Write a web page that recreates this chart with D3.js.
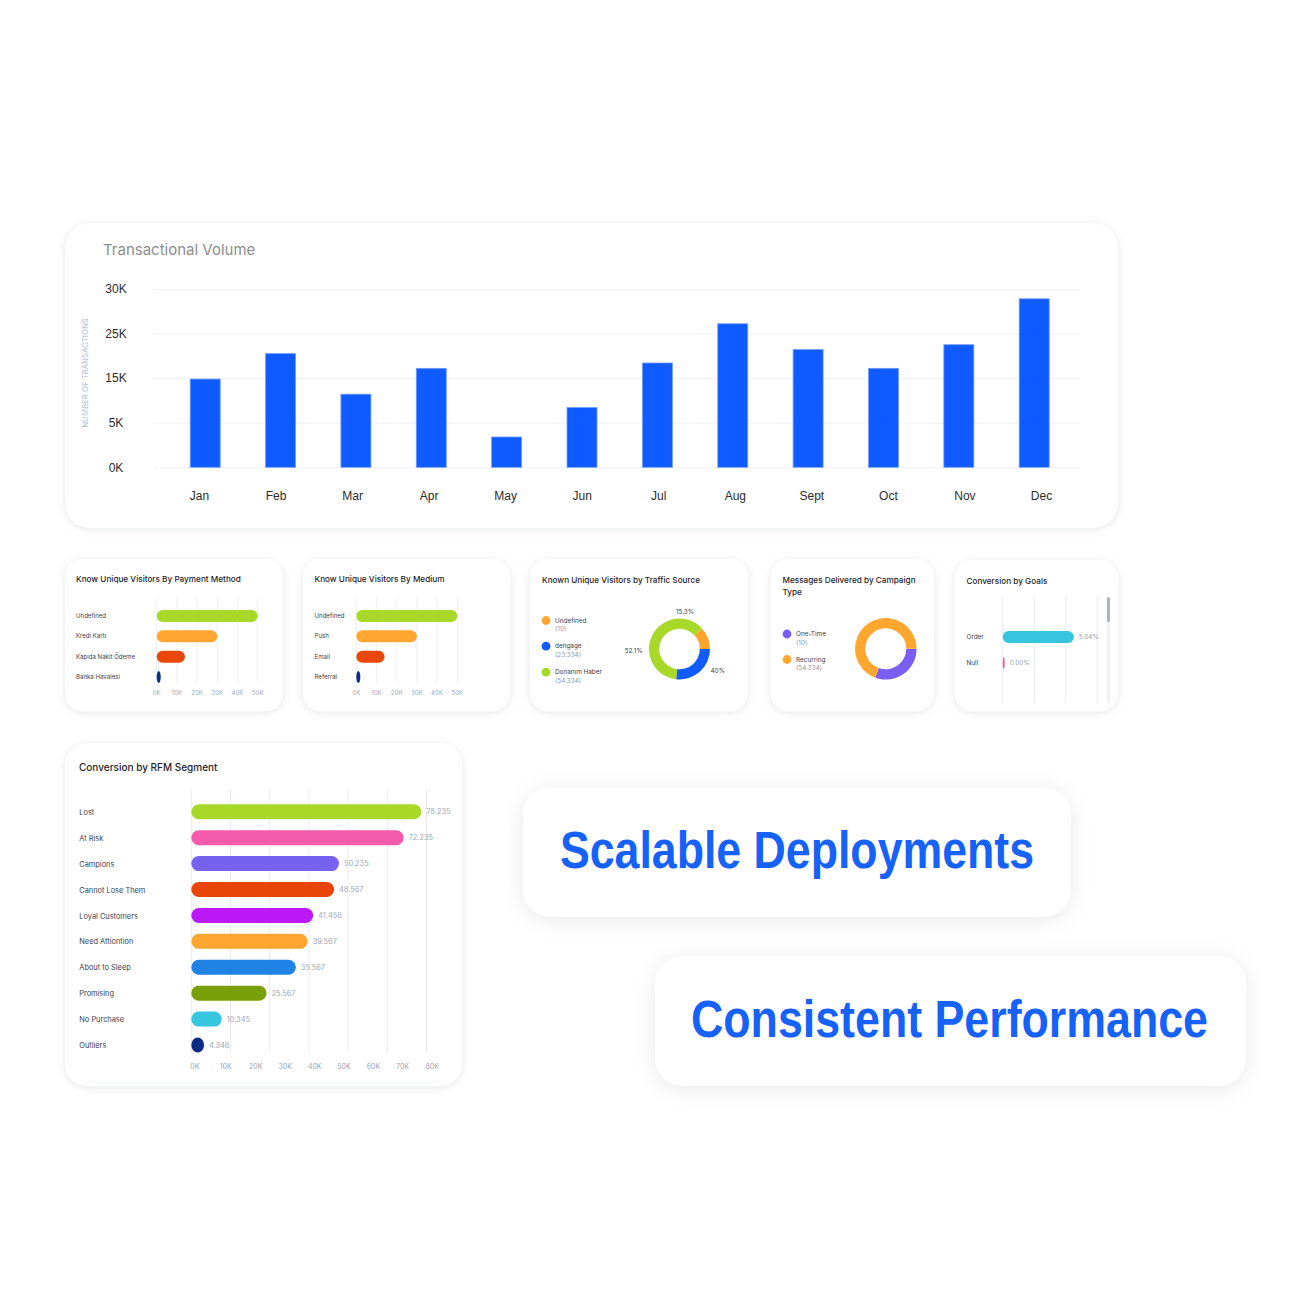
<!DOCTYPE html>
<html>
<head>
<meta charset="utf-8">
<script src="https://cdn.jsdelivr.net/npm/d3@7"></script>
<style>
  html, body { margin: 0; padding: 0; background: #ffffff; }
  svg { display: block; font-family: Inter, "Noto Sans", "Liberation Sans", sans-serif; }
</style>
</head>
<body>
<script>
// ---------------- DATA ----------------
const months = ["Jan","Feb","Mar","Apr","May","Jun","Jul","Aug","Sept","Oct","Nov","Dec"];
const transactions = [14800, 20500, 11400, 17200, 3400, 8400, 18400, 26100, 21400, 17200, 22500, 28900];
const yTickValues = [0, 5000, 15000, 25000, 30000];
const yTickLabels = ["0K", "5K", "15K", "25K", "30K"];

const paymentCats = ["Undefined", "Kredi Kartı", "Kapıda Nakit Ödeme", "Banka Havalesi"];
const paymentValues = [50000, 30000, 14000, 2000];
const mediumCats = ["Undefined", "Push", "Email", "Referral"];
const mediumValues = [50000, 30000, 14000, 2000];
const smallTicks = [0, 10000, 20000, 30000, 40000, 50000];
const smallBarColors = ["#a8d929", "#ffa631", "#e9470b", "#0c2d8c"];

const trafficCats = ["Undefined", "dengage", "Donanım Haber"];
const trafficCounts = ["(10)", "(23.334)", "(54.334)"];
const trafficShare = [11.8, 26.8, 61.4];
const trafficLabels = ["15.3%", "40%", "52.1%"];
const trafficColors = ["#ffa631", "#115cff", "#a8d929"];

const campaignCats = ["One-Time", "Recurring"];
const campaignCounts = ["(10)", "(54.334)"];
const campaignShare = [30.6, 69.4];
const campaignColors = ["#7a5df1", "#ffa631"];

const goalCats = ["Order", "Null"];
const goalValues = [5.04, 0.00];
const goalLabels = ["5.04%", "0.00%"];
const goalColors = ["#37c4df", "#f259a8"];

const rfmCats = ["Lost", "At Risk", "Campions", "Cannot Lose Them", "Loyal Customers",
  "Need Attiontion", "About to Sleep", "Promising", "No Purchase", "Outliers"];
const rfmValues = [78235, 72235, 50235, 48567, 41456, 39567, 35567, 25567, 10345, 4346];
const rfmColors = ["#a8d929", "#f55bad", "#7761ef", "#e84506", "#bb19f7", "#ffa631",
  "#1f83e6", "#78a006", "#38c5df", "#0a2c86"];
const rfmTicks = [0, 10000, 20000, 30000, 40000, 50000, 60000, 70000, 80000];

const headlines = ["Scalable Deployments", "Consistent Performance"];

// ---------------- SETUP ----------------
const svg = d3.select("body").append("svg").attr("width", 1312).attr("height", 1312);
const defs = svg.append("defs");
const f1 = defs.append("filter").attr("id", "sh").attr("x", "-10%").attr("y", "-15%").attr("width", "120%").attr("height", "135%");
f1.append("feDropShadow").attr("dx", 0).attr("dy", 1.5).attr("stdDeviation", 4)
  .attr("flood-color", "#1a2840").attr("flood-opacity", 0.10);
const f2 = defs.append("filter").attr("id", "sh2").attr("x", "-10%").attr("y", "-30%").attr("width", "120%").attr("height", "160%");
f2.append("feDropShadow").attr("dx", 0).attr("dy", 3).attr("stdDeviation", 10)
  .attr("flood-color", "#1a2840").attr("flood-opacity", 0.09);

function card(x, y, w, h, r, filt) {
  svg.append("rect").attr("x", x).attr("y", y).attr("width", w).attr("height", h)
    .attr("rx", r).attr("ry", r).attr("fill", "#ffffff").attr("filter", `url(#${filt || "sh"})`);
}
function txt(g, x, y, s, size, fill, opts = {}) {
  return g.append("text").attr("x", x).attr("y", y).attr("dy", opts.dy || "0.35em")
    .attr("font-size", size).attr("fill", fill)
    .attr("font-weight", opts.weight || 400)
    .attr("text-anchor", opts.anchor || "start").text(s);
}
const kFmt = d => (d / 1000) + "K";
const trLocale = d3.formatLocale({ decimal: ",", thousands: ".", grouping: [3], currency: ["", ""] });
const dotFmt = trLocale.format(",");
const TITLE_SIZE = 8.2;

// ---------------- MAIN BAR CHART ----------------
card(65, 223, 1053, 305, 26);
const gMain = svg.append("g");
txt(gMain, 103, 249.5, "Transactional Volume", 15, "#8d8d8d");

const plotTop = 289, plotBottom = 467.3;
const y = d3.scaleLinear().domain(yTickValues)
  .range(yTickValues.map((d, i) => plotBottom - i * (plotBottom - plotTop) / (yTickValues.length - 1)));
const xBar = d3.scalePoint().domain(months).range([205.2, 1034.2]);
const xLab = d3.scalePoint().domain(months).range([199, 1041]);

const yAxis = gMain.append("g").attr("transform", "translate(153,0)")
  .call(d3.axisLeft(y).tickValues(yTickValues).tickFormat((d, i) => yTickLabels[i]).tickSize(-927));
yAxis.select(".domain").remove();
yAxis.selectAll(".tick line").attr("stroke", "#edf0f4").attr("stroke-width", 1);
yAxis.selectAll(".tick text").attr("x", -37).attr("text-anchor", "middle")
  .attr("font-size", 12).attr("fill", "#2c2c2c").attr("font-family", null);

const xAxis = gMain.append("g").attr("transform", `translate(0,${plotBottom})`)
  .call(d3.axisBottom(xLab).tickSize(0).tickPadding(24.5));
xAxis.select(".domain").remove();
xAxis.selectAll(".tick text").attr("font-size", 12).attr("fill", "#2c2c2c").attr("font-family", null);

gMain.append("g").selectAll("rect").data(months).join("rect")
  .attr("x", m => xBar(m) - 15).attr("width", 30)
  .attr("y", (m, i) => y(transactions[i]))
  .attr("height", (m, i) => y(0) - y(transactions[i]))
  .attr("fill", "#0f5bff").attr("stroke", "#6f9cff").attr("stroke-width", 0.8);

gMain.append("text").attr("transform", "translate(85,373) rotate(-90)")
  .attr("text-anchor", "middle").attr("dy", "0.35em").attr("font-size", 7.8)
  .attr("fill", "#b3bdce").text("NUMBER OF TRANSACTIONS");

// ---------------- SMALL HORIZONTAL BAR CARDS ----------------
function smallBarCard(cx, cw, title, cats, values, x0, x1, labelX) {
  card(cx, 559, cw, 152, 18);
  const g = svg.append("g");
  txt(g, labelX, 579.3, title, TITLE_SIZE, "#1f2329", { weight: 500 });
  const x = d3.scaleLinear().domain([0, 50000]).range([x0, x1]);
  const yy = d3.scalePoint().domain(cats).range([616, 677]);
  g.append("g").selectAll("line").data(smallTicks).join("line")
    .attr("x1", d => x(d)).attr("x2", d => x(d)).attr("y1", 596.7).attr("y2", 683.3)
    .attr("stroke", "#e9edf2").attr("stroke-width", 0.8);
  g.append("g").selectAll("text").data(smallTicks).join("text")
    .attr("x", d => x(d)).attr("y", 693.3).attr("dy", "0.35em").attr("text-anchor", "middle")
    .attr("font-size", 6.2).attr("fill", "#9ea8b8").text(kFmt);
  g.append("g").selectAll("text").data(cats).join("text")
    .attr("x", labelX).attr("y", d => yy(d)).attr("dy", "0.35em")
    .attr("font-size", 6.1).attr("fill", "#3a404c").text(d => d);
  g.append("g").selectAll("rect").data(cats).join("rect")
    .attr("x", x(0)).attr("y", d => yy(d) - 6).attr("height", 12)
    .attr("width", (d, i) => x(values[i]) - x(0)).attr("rx", 6).attr("ry", 6)
    .attr("fill", (d, i) => smallBarColors[i]);
}
smallBarCard(65, 218, "Know Unique Visitors By Payment Method", paymentCats, paymentValues, 156.7, 257.7, 76);
smallBarCard(303, 207, "Know Unique Visitors By Medium", mediumCats, mediumValues, 356.3, 457.3, 314.5);

// ---------------- DONUT CARDS ----------------
function legend(g, cats, counts, colors, cx, tx, ys) {
  cats.forEach((c, i) => {
    g.append("circle").attr("cx", cx).attr("cy", ys[i]).attr("r", 4.4).attr("fill", colors[i]);
    txt(g, tx, ys[i], c, 6.4, "#3a404c");
    txt(g, tx, ys[i] + 8.3, counts[i], 6.4, "#8f98a8");
  });
}
// Traffic source
card(530, 559, 218, 152, 18);
const gT = svg.append("g");
txt(gT, 542, 580, "Known Unique Visitors by Traffic Source", TITLE_SIZE, "#1f2329", { weight: 500 });
legend(gT, trafficCats, trafficCounts, trafficColors, 546, 555, [620.5, 646.2, 672.2]);
{
  const cx = 679.5, cy = 649;
  const pie = d3.pie().sort(null).value(d => d)
    .startAngle(47.5 * Math.PI / 180).endAngle(47.5 * Math.PI / 180 + 2 * Math.PI);
  const arc = d3.arc().innerRadius(20.3).outerRadius(30.5);
  gT.append("g").attr("transform", `translate(${cx},${cy})`)
    .selectAll("path").data(pie(trafficShare)).join("path")
    .attr("d", arc).attr("fill", (d, i) => trafficColors[i]);
  const offs = [[5.5, -37.3], [38.2, 21.7], [-45.8, 1.7]];
  trafficLabels.forEach((l, i) => txt(gT, cx + offs[i][0], cy + offs[i][1], l, 6.4, "#3a404c", { anchor: "middle" }));
}
// Campaign type
card(771, 559, 163, 152, 18);
const gC = svg.append("g");
txt(gC, 782.5, 580, "Messages Delivered by Campaign", TITLE_SIZE, "#1f2329", { weight: 500 });
txt(gC, 782.5, 592.3, "Type", TITLE_SIZE, "#1f2329", { weight: 500 });
legend(gC, campaignCats, campaignCounts, campaignColors, 787, 796, [634, 659.5]);
{
  const cx = 885.8, cy = 648.8;
  const pie = d3.pie().sort(null).value(d => d)
    .startAngle(Math.PI / 2).endAngle(Math.PI / 2 + 2 * Math.PI);
  const arc = d3.arc().innerRadius(20.5).outerRadius(30.8);
  gC.append("g").attr("transform", `translate(${cx},${cy})`)
    .selectAll("path").data(pie(campaignShare)).join("path")
    .attr("d", arc).attr("fill", (d, i) => campaignColors[i]);
}

// ---------------- CONVERSION BY GOALS ----------------
card(955, 560, 163, 151, 18);
const gG = svg.append("g");
txt(gG, 966.5, 581.5, "Conversion by Goals", TITLE_SIZE, "#1f2329", { weight: 500 });
{
  const x = d3.scaleLinear().domain([0, 6.7]).range([1002.7, 1097.3]);
  const yy = d3.scalePoint().domain(goalCats).range([637, 663]);
  gG.append("g").selectAll("line").data(d3.range(4).map(i => i * 6.7 / 3)).join("line")
    .attr("x1", d => x(d)).attr("x2", d => x(d)).attr("y1", 597).attr("y2", 703)
    .attr("stroke", "#e3e8ee").attr("stroke-width", 0.9);
  gG.append("rect").attr("x", 1107).attr("y", 597).attr("width", 3).attr("height", 106)
    .attr("rx", 1.5).attr("fill", "#f0f2f5");
  gG.append("rect").attr("x", 1107).attr("y", 597).attr("width", 3).attr("height", 25)
    .attr("rx", 1.5).attr("fill", "#aab3bf");
  gG.append("g").selectAll("text").data(goalCats).join("text")
    .attr("x", 966.5).attr("y", d => yy(d) - 0.7).attr("dy", "0.35em")
    .attr("font-size", 6.4).attr("fill", "#3a404c").text(d => d);
  gG.append("g").selectAll("rect").data(goalCats).join("rect")
    .attr("x", x(0)).attr("y", d => yy(d) - 6).attr("height", 12)
    .attr("width", (d, i) => Math.max(2, x(goalValues[i]) - x(0)))
    .attr("rx", 6).attr("ry", 6).attr("fill", (d, i) => goalColors[i]);
  gG.append("g").selectAll("text").data(goalCats).join("text")
    .attr("x", (d, i) => Math.max(x(0) + 2, x(goalValues[i])) + 5).attr("y", d => yy(d) - 0.7)
    .attr("dy", "0.35em").attr("font-size", 6.4).attr("fill", "#9aa3b2").text((d, i) => goalLabels[i]);
}

// ---------------- RFM SEGMENT ----------------
card(65, 743, 397, 343, 22);
const gR = svg.append("g");
txt(gR, 79, 767.3, "Conversion by RFM Segment", 10, "#1f2329", { weight: 500 });
{
  const x = d3.scaleLinear().domain([0, 80000]).range([191.3, 426.5]);
  const yy = d3.scalePoint().domain(rfmCats).range([811.8, 1045]);
  gR.append("g").selectAll("line").data(d3.range(7).map(i => i * 80000 / 6)).join("line")
    .attr("x1", d => x(d)).attr("x2", d => x(d)).attr("y1", 789.3).attr("y2", 1052.7)
    .attr("stroke", "#e5eaf0").attr("stroke-width", 0.9);
  gR.append("g").selectAll("text").data(rfmTicks).join("text")
    .attr("x", d => x(d) - 1).attr("y", 1066.7).attr("dy", "0.35em")
    .attr("font-size", 7).attr("fill", "#9ca6b6").text(kFmt);
  gR.append("g").selectAll("text").data(rfmCats).join("text")
    .attr("x", 79.3).attr("y", d => yy(d) + 0.5).attr("dy", "0.35em")
    .attr("font-size", 7.4).attr("fill", "#3a414f").text(d => d);
  gR.append("g").selectAll("rect").data(rfmCats).join("rect")
    .attr("x", x(0)).attr("y", d => yy(d) - 7.5).attr("height", 15)
    .attr("width", (d, i) => x(rfmValues[i]) - x(0)).attr("rx", 7.5).attr("ry", 7.5)
    .attr("fill", (d, i) => rfmColors[i]);
  gR.append("g").selectAll("text.v").data(rfmCats).join("text")
    .attr("x", (d, i) => x(rfmValues[i]) + 5).attr("y", d => yy(d))
    .attr("dy", "0.35em").attr("font-size", 7.4).attr("fill", "#a0a8b7")
    .text((d, i) => dotFmt(rfmValues[i]));
}

// ---------------- HEADLINE CARDS ----------------
card(523, 787, 548, 130, 28, "sh2");
card(655, 956, 591, 130, 28, "sh2");
const hl = [[560, 868.3, 474], [691, 1036.7, 517]];
headlines.forEach((h, i) => {
  svg.append("text").attr("x", hl[i][0]).attr("y", hl[i][1])
    .attr("font-family", "'Liberation Sans', Arimo, Arial, sans-serif")
    .attr("font-size", 51).attr("font-weight", 700).attr("fill", "#1661f7")
    .attr("textLength", hl[i][2]).attr("lengthAdjust", "spacingAndGlyphs")
    .text(h);
});
</script>
</body>
</html>
